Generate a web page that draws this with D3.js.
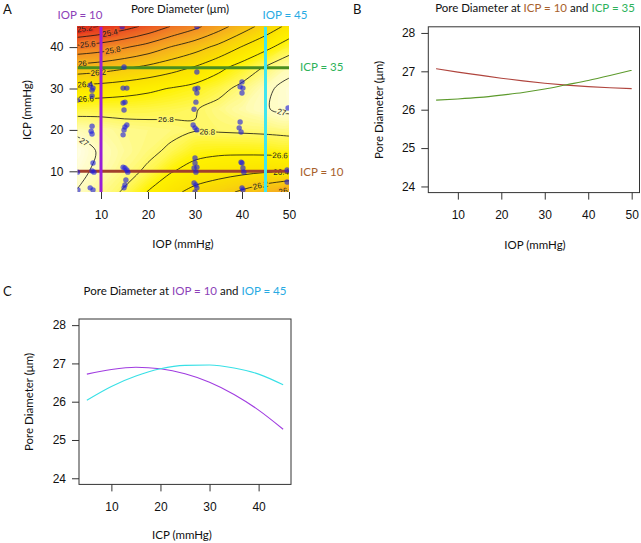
<!DOCTYPE html>
<html>
<head>
<meta charset="utf-8">
<script src="https://cdn.jsdelivr.net/npm/d3@7"></script>
<style>
body { margin: 0; background: #fff; }
svg text { font-family: "Liberation Sans", Arial, sans-serif; }
svg text.cal { font-family: Lato, "Open Sans", sans-serif; }
</style>
</head>
<body>
<div id="fig"></div>
<script>
// ---- panel A: pore diameter surface ----
var gridIop = [5, 10, 15, 20, 25, 30, 35, 40, 45, 50];
var gridIcp = [5, 10, 15, 20, 25, 30, 35, 40, 45];
// one row per ICP value (ICP 5 first), one column per IOP value
var poreGrid = [
  [26.99, 26.88, 26.78, 26.59, 26.45, 26.34, 26.27, 26.17, 26.06, 25.95],
  [27.05, 26.95, 26.86, 26.77, 26.61, 26.53, 26.48, 26.45, 26.42, 26.41],
  [27.10, 26.97, 26.90, 26.84, 26.77, 26.66, 26.64, 26.64, 26.65, 26.66],
  [26.95, 26.92, 26.88, 26.86, 26.84, 26.81, 26.82, 26.83, 26.84, 26.86],
  [26.72, 26.73, 26.73, 26.74, 26.76, 26.79, 26.86, 26.93, 26.99, 27.04],
  [26.47, 26.49, 26.52, 26.56, 26.61, 26.66, 26.74, 26.85, 26.97, 27.05],
  [26.08, 26.12, 26.18, 26.25, 26.33, 26.42, 26.55, 26.68, 26.82, 26.95],
  [25.65, 25.70, 25.78, 25.88, 26.01, 26.12, 26.25, 26.41, 26.55, 26.70],
  [25.12, 25.21, 25.32, 25.45, 25.61, 25.75, 25.92, 26.10, 26.28, 26.45]
];
var contourLevels = [25.2, 25.4, 25.6, 25.8, 26, 26.2, 26.4, 26.6, 26.8, 27];

// contour labels as they appear in the picture
var labelLevel = [25.2, 25.4, 25.6, 25.8, 26, 26.2, 26.4, 26.6, 26.8, 26.8, 27, 27, 26.6, 26.4, 26.2, 26];
var labelIop   = [6.6, 11.9, 7.2, 12.5, 6.0, 9.4, 6.6, 6.8, 23.8, 32.6, 6.4, 48.7, 48.1, 48.3, 43.8, 48.7];
var labelIcp   = [43.8, 43.4, 40.5, 39.3, 36.4, 34.2, 31.3, 27.7, 21.9, 19.3, 17.1, 25.5, 13.7, 10.3, 7.2, 5.5];

// measured eyes
var eyeIop = [7.7, 8.3, 8.1, 8.1, 8.1, 7.9, 8.1, 8.3, 8.1, 8.5, 7.7, 8.3, 5.0, 5.0, 5.1,
              14.5, 14.9, 14.7, 15.5, 15.1, 14.7, 14.9, 15.1, 15.5, 14.9, 14.7, 14.7, 15.1, 15.5, 15.7, 15.3, 15.1, 14.9,
              30.4, 30.4, 30.0, 30.6, 30.4, 30.2, 29.8, 29.6, 30.0, 30.4, 30.0, 30.0, 30.4, 29.8, 30.2, 29.8, 30.2, 30.4, 30.0,
              39.6, 40.0, 40.2, 40.0, 39.6, 39.4, 39.8, 39.8, 40.0, 40.2, 40.4, 40.0, 40.2,
              49.8, 49.6, 49.6];
var eyeIcp = [30.8, 30.1, 29.6, 28.2, 20.9, 19.7, 19.0, 12.0, 10.1, 9.8, 6.0, 5.5, 27.2, 9.8, 5.5,
              44.9, 35.2, 30.1, 30.1, 26.7, 26.5, 24.8, 20.7, 21.2, 20.0, 18.8, 11.0, 10.8, 10.3, 9.8, 7.9, 6.7, 6.0,
              44.9, 34.0, 29.9, 30.1, 28.9, 26.7, 25.0, 21.2, 20.5, 20.0, 13.2, 12.0, 11.0, 10.8, 9.8, 7.2, 6.7, 6.0, 5.0,
              30.4, 31.6, 30.1, 28.9, 21.9, 20.5, 19.5, 12.2, 12.0, 10.8, 9.8, 6.0, 5.5,
              25.3, 10.3, 7.4];

// ---- panel B: slices at ICP = 10 and ICP = 35 ----
var sliceIop = [5, 10, 15, 20, 25, 30, 35, 40, 45, 50];
var poreAtIcp10 = [27.07, 26.98, 26.90, 26.82, 26.75, 26.69, 26.64, 26.60, 26.57, 26.55];
var poreAtIcp35 = [26.25, 26.28, 26.32, 26.38, 26.45, 26.54, 26.65, 26.76, 26.89, 27.03];

// ---- panel C: slices at IOP = 10 and IOP = 45 ----
var sliceIcp = [5, 10, 15, 20, 25, 30, 35, 40, 45];
var poreAtIop10 = [26.72, 26.84, 26.90, 26.86, 26.73, 26.51, 26.19, 25.78, 25.28];
var poreAtIop45 = [26.04, 26.40, 26.67, 26.86, 26.95, 26.96, 26.88, 26.72, 26.44];

var iopTicks = [10, 20, 30, 40, 50];
var icpTicksA = [10, 20, 30, 40];
var icpTicksC = [10, 20, 30, 40];
var poreTicks = [24, 25, 26, 27, 28];

var colIop10 = "#9a1fd8", colIop45 = "#3fe6f0", colIcp35 = "#4b8f1f", colIcp10 = "#a2402c";
var txtIop10 = "#8c41b8", txtIop45 = "#27aae3", txtIcp35 = "#2db25a", txtIcp10 = "#a8612c";

var svg = d3.select("#fig").append("svg")
    .attr("width", 641)
    .attr("height", 543);

// ================= panel A =================
var xA = d3.scaleLinear().domain([5, 50]).range([77.5, 289]);
var yA = d3.scaleLinear().domain([5, 45]).range([192, 26.4]);

var heat = d3.scaleLinear()
    .domain([25.1, 25.35, 25.65, 25.95, 26.2, 26.4, 26.6, 26.8, 26.95, 27.1])
    .range(["#e2281c", "#e94a22", "#f07c26", "#f5a820", "#f8cc10", "#fbe200", "#fff200", "#fff86a", "#fffcb8", "#fffee6"])
    .clamp(true);

var nx = gridIop.length, ny = gridIcp.length;
var flat = [].concat.apply([], poreGrid);
// d3.contours puts value i at grid coordinate i + 0.5
var gx = d3.scaleLinear().domain([0.5, nx - 0.5]).range([gridIop[0], gridIop[nx - 1]]);
var gy = d3.scaleLinear().domain([0.5, ny - 0.5]).range([gridIcp[0], gridIcp[ny - 1]]);
function toPx(p) { return [xA(gx(p[0])), yA(gy(p[1]))]; }

svg.append("clipPath").attr("id", "clipA")
  .append("rect")
    .attr("x", xA(5)).attr("y", yA(45))
    .attr("width", xA(50) - xA(5)).attr("height", yA(5) - yA(45));

var gA = svg.append("g").attr("clip-path", "url(#clipA)");

var closedRing = d3.line().curve(d3.curveCatmullRomClosed);
var bands = d3.contours().size([nx, ny]).thresholds(d3.range(24.9, 27.2, 0.02))(flat);

gA.selectAll("path.band")
  .data(bands)
  .join("path")
    .attr("class", "band")
    .attr("fill-rule", "evenodd")
    .attr("fill", function(d) { return heat(d.value); })
    .attr("d", function(d) {
        return d.coordinates.map(function(poly) {
            return poly.map(function(r) { return closedRing(r.slice(0, -1).map(toPx)); }).join("");
        }).join("");
    });

// contour lines: keep only the parts inside the data grid
function interiorPieces(r) {
    var eps = 1e-6, pieces = [], cur = [];
    function inside(p) {
        return p[0] >= 0.5 - eps && p[0] <= nx - 0.5 + eps && p[1] >= 0.5 - eps && p[1] <= ny - 0.5 + eps;
    }
    r.forEach(function(p) {
        if (inside(p)) cur.push(p);
        else { if (cur.length > 1) pieces.push(cur); cur = []; }
    });
    if (cur.length > 1) pieces.push(cur);
    if (pieces.length > 1 && inside(r[0]) && inside(r[r.length - 1])) {
        var last = pieces.pop();
        pieces[0] = last.concat(pieces[0].slice(1));
    }
    return pieces.map(function(pc) { return pc.map(toPx); });
}

var isolines = d3.contours().size([nx, ny]).thresholds(contourLevels)(flat).map(function(c) {
    var pieces = [];
    c.coordinates.forEach(function(poly) {
        poly.forEach(function(r) { pieces = pieces.concat(interiorPieces(r)); });
    });
    return {value: c.value, pieces: pieces};
});

var openLine = d3.line().curve(d3.curveCatmullRom);
isolines.forEach(function(iso) {
    gA.selectAll(null)
      .data(iso.pieces)
      .join("path")
        .attr("fill", "none")
        .attr("stroke", "#111")
        .attr("stroke-width", 0.8)
        .attr("d", openLine);
});

// contour labels sit on their line, with the fill colour as a gap
function nearestOn(pieces, pt) {
    var best = null;
    pieces.forEach(function(pc) {
        for (var i = 0; i < pc.length - 1; i++) {
            var a = pc[i], b = pc[i + 1], dx = b[0] - a[0], dy = b[1] - a[1], L = dx * dx + dy * dy;
            var t = L ? Math.max(0, Math.min(1, ((pt[0] - a[0]) * dx + (pt[1] - a[1]) * dy) / L)) : 0;
            var q = [a[0] + t * dx, a[1] + t * dy];
            var d = (q[0] - pt[0]) * (q[0] - pt[0]) + (q[1] - pt[1]) * (q[1] - pt[1]);
            if (!best || d < best.d) best = {d: d, p: q, ang: Math.atan2(dy, dx) * 180 / Math.PI};
        }
    });
    if (best.ang > 90) best.ang -= 180;
    if (best.ang < -90) best.ang += 180;
    return best;
}

labelLevel.forEach(function(lv, i) {
    var iso = isolines.filter(function(c) { return Math.abs(c.value - lv) < 1e-6; })[0];
    var target = [xA(labelIop[i]), yA(labelIcp[i])];
    var hit = iso && iso.pieces.length ? nearestOn(iso.pieces, target) : {p: target, ang: 0};
    gA.append("text")
        .attr("transform", "translate(" + hit.p[0] + "," + hit.p[1] + ") rotate(" + hit.ang + ")")
        .attr("text-anchor", "middle")
        .attr("dy", "0.35em")
        .attr("font-size", 8)
        .attr("fill", "#222")
        .attr("stroke", heat(lv))
        .attr("stroke-width", 3)
        .attr("paint-order", "stroke")
        .text(String(+lv.toFixed(1)));
});

// reference lines
gA.append("line").attr("x1", xA(5)).attr("x2", xA(50)).attr("y1", yA(35)).attr("y2", yA(35))
    .attr("stroke", colIcp35).attr("stroke-width", 3);
gA.append("line").attr("x1", xA(5)).attr("x2", xA(50)).attr("y1", yA(10)).attr("y2", yA(10))
    .attr("stroke", colIcp10).attr("stroke-width", 3);
gA.append("line").attr("x1", xA(10)).attr("x2", xA(10)).attr("y1", yA(45)).attr("y2", yA(5))
    .attr("stroke", colIop10).attr("stroke-width", 3);
gA.append("line").attr("x1", xA(45)).attr("x2", xA(45)).attr("y1", yA(45)).attr("y2", yA(5))
    .attr("stroke", colIop45).attr("stroke-width", 3);

// measured points
gA.selectAll("circle")
  .data(eyeIop)
  .join("circle")
    .attr("cx", function(d) { return xA(d); })
    .attr("cy", function(d, i) { return yA(eyeIcp[i]); })
    .attr("r", 2.7)
    .attr("fill", "#1c1ce0")
    .attr("fill-opacity", 0.62);

svg.append("g")
    .attr("transform", "translate(0," + yA(5) + ")")
    .call(d3.axisBottom(xA).tickValues(iopTicks).tickSize(7).tickPadding(11))
    .call(function(g) { g.select(".domain").remove(); });
svg.append("g")
    .attr("transform", "translate(" + xA(5) + ",0)")
    .call(d3.axisLeft(yA).tickValues(icpTicksA).tickSize(8).tickPadding(6))
    .call(function(g) { g.select(".domain").remove(); });

// ================= panel B =================
var xB = d3.scaleLinear().domain([3.2, 51.8]).range([428.3, 639.5]);
var yB = d3.scaleLinear().domain([23.84, 28.16]).range([192.6, 26.8]);

svg.append("rect")
    .attr("x", xB(3.2)).attr("y", yB(28.16))
    .attr("width", xB(51.8) - xB(3.2)).attr("height", yB(23.84) - yB(28.16))
    .attr("fill", "none").attr("stroke", "#333");

var lineB = d3.line()
    .x(function(d, i) { return xB(sliceIop[i]); })
    .y(function(d) { return yB(d); })
    .curve(d3.curveMonotoneX);

svg.append("path").attr("d", lineB(poreAtIcp10)).attr("fill", "none").attr("stroke", "#b0453e").attr("stroke-width", 1.1);
svg.append("path").attr("d", lineB(poreAtIcp35)).attr("fill", "none").attr("stroke", "#5c9a2c").attr("stroke-width", 1.1);

svg.append("g")
    .attr("transform", "translate(0," + yB(23.84) + ")")
    .call(d3.axisBottom(xB).tickValues(iopTicks).tickSize(7).tickPadding(11))
    .call(function(g) { g.select(".domain").remove(); });
svg.append("g")
    .attr("transform", "translate(" + xB(3.2) + ",0)")
    .call(d3.axisLeft(yB).tickValues(poreTicks).tickFormat(d3.format("d")).tickSize(7).tickPadding(6))
    .call(function(g) { g.select(".domain").remove(); });

// ================= panel C =================
var xC = d3.scaleLinear().domain([3.4, 46.6]).range([79, 291]);
var yC = d3.scaleLinear().domain([23.84, 28.16]).range([484.4, 319]);

svg.append("rect")
    .attr("x", xC(3.4)).attr("y", yC(28.16))
    .attr("width", xC(46.6) - xC(3.4)).attr("height", yC(23.84) - yC(28.16))
    .attr("fill", "none").attr("stroke", "#333");

var lineC = d3.line()
    .x(function(d, i) { return xC(sliceIcp[i]); })
    .y(function(d) { return yC(d); })
    .curve(d3.curveMonotoneX);

svg.append("path").attr("d", lineC(poreAtIop10)).attr("fill", "none").attr("stroke", "#a03ce0").attr("stroke-width", 1.1);
svg.append("path").attr("d", lineC(poreAtIop45)).attr("fill", "none").attr("stroke", "#38e0e6").attr("stroke-width", 1.1);

svg.append("g")
    .attr("transform", "translate(0," + yC(23.84) + ")")
    .call(d3.axisBottom(xC).tickValues(icpTicksC).tickSize(7).tickPadding(11))
    .call(function(g) { g.select(".domain").remove(); });
svg.append("g")
    .attr("transform", "translate(" + xC(3.4) + ",0)")
    .call(d3.axisLeft(yC).tickValues(poreTicks).tickFormat(d3.format("d")).tickSize(7).tickPadding(6))
    .call(function(g) { g.select(".domain").remove(); });

// axis styling
svg.selectAll(".tick text").attr("font-size", 12).attr("fill", "#111")
    .style("font-family", "'Liberation Sans', Arial, sans-serif");
svg.selectAll(".tick line").attr("stroke", "#333");

// ================= text =================
function label(x, y, parts, anchor, size, rot) {
    var t = svg.append("text")
        .attr("class", "cal")
        .attr("x", x).attr("y", y)
        .attr("text-anchor", anchor || "middle")
        .attr("font-size", size || 11.5);
    if (rot) t.attr("transform", "rotate(" + rot + "," + x + "," + y + ")");
    parts.forEach(function(p) {
        t.append("tspan").attr("fill", p[1] || "#111").text(p[0]);
    });
    return t;
}

label(3, 14, [["A"]], "start", 13);
label(353, 14, [["B"]], "start", 13);
label(3, 296, [["C"]], "start", 13);

label(180, 13, [["Pore Diameter (\u03bcm)"]]);
label(80, 19, [["IOP = 10", txtIop10]]);
label(285, 19, [["IOP = 45", txtIop45]]);
label(300, 71, [["ICP = 35", txtIcp35]], "start");
label(300, 176, [["ICP = 10", txtIcp10]], "start");
label(183, 248, [["IOP (mmHg)"]]);
label(31, 110, [["ICP (mmHg)"]], "middle", 11.5, -90);

label(535, 12, [["Pore Diameter at "], ["ICP = 10", txtIcp10], [" and "], ["ICP = 35", txtIcp35]]);
label(383, 110, [["Pore Diameter (\u03bcm)"]], "middle", 11.5, -90);
label(535, 249, [["IOP (mmHg)"]]);

label(185, 295, [["Pore Diameter at "], ["IOP = 10", txtIop10], [" and "], ["IOP = 45", txtIop45]]);
label(33, 402, [["Pore Diameter (\u03bcm)"]], "middle", 11.5, -90);
label(182, 539, [["ICP (mmHg)"]]);
</script>
</body>
</html>
